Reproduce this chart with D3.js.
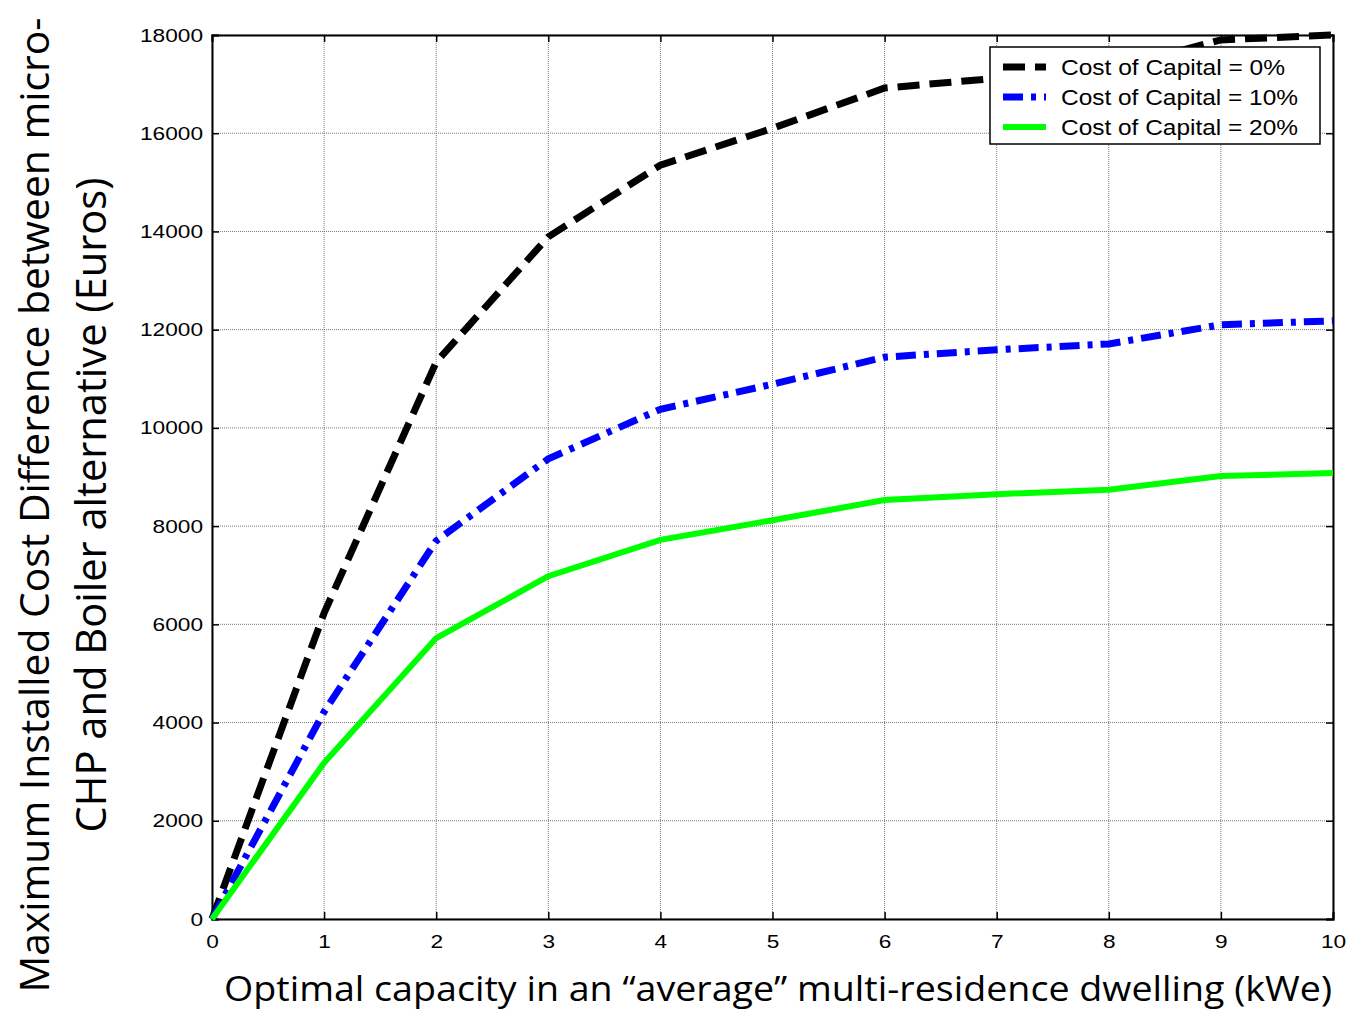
<!DOCTYPE html>
<html>
<head>
<meta charset="utf-8">
<script src="https://cdn.jsdelivr.net/npm/d3@7"></script>
<style>
  body { margin: 0; background: #fff; }
  svg { display: block; }
</style>
</head>
<body>
<div id="chart"></div>
<script>
// capacity (kWe) and max installed cost difference (Euros) per cost of capital
const capacity = [0, 1, 2, 3, 4, 5, 6, 7, 8, 9, 10];
const coc0 = [0, 6230, 11340, 13890, 15350, 16100, 16920, 17120, 17300, 17900, 18000];
const coc10 = [0, 4220, 7700, 9370, 10380, 10890, 11440, 11590, 11710, 12100, 12180];
const coc20 = [0, 3180, 5720, 6980, 7720, 8120, 8530, 8650, 8740, 9020, 9080];
const seriesNames = ['Cost of Capital = 0%', 'Cost of Capital = 10%', 'Cost of Capital = 20%'];
const yTicks = [0, 2000, 4000, 6000, 8000, 10000, 12000, 14000, 16000, 18000];

const W = 1348, H = 1011;
const plotL = 212, plotR = 1333, plotT = 35, plotB = 919;

const svg = d3.select('#chart').append('svg')
  .attr('width', W).attr('height', H);

const x = d3.scaleLinear().domain([0, 10]).range([plotL, plotR]);
const y = d3.scaleLinear().domain([0, 18000]).range([plotB, plotT]);

// grid
const grid = svg.append('g');
grid.selectAll('.gx').data(capacity).enter().append('line')
  .attr('x1', d => x(d)).attr('x2', d => x(d))
  .attr('y1', plotT).attr('y2', plotB)
  .attr('stroke', '#777').attr('stroke-width', 1).attr('stroke-dasharray', '1,1');
grid.selectAll('.gy').data(yTicks).enter().append('line')
  .attr('x1', plotL).attr('x2', plotR)
  .attr('y1', d => y(d)).attr('y2', d => y(d))
  .attr('stroke', '#777').attr('stroke-width', 1).attr('stroke-dasharray', '1,1');

// axes
const axFont = 'Liberation Sans, Arial, sans-serif';
svg.append('g').attr('transform', `translate(0,${plotB})`)
  .call(d3.axisBottom(x).tickValues(capacity).tickSize(-7).tickPadding(16).tickFormat(d3.format('d')));
svg.append('g').attr('transform', `translate(${plotL},0)`)
  .call(d3.axisLeft(y).tickValues(yTicks).tickSize(-7).tickPadding(9).tickFormat(d3.format('d')));
svg.append('g').attr('transform', `translate(0,${plotT})`)
  .call(d3.axisTop(x).tickValues(capacity).tickSize(-7).tickFormat(''));
svg.append('g').attr('transform', `translate(${plotR},0)`)
  .call(d3.axisRight(y).tickValues(yTicks).tickSize(-7).tickFormat(''));
svg.selectAll('.domain').attr('stroke', '#000').attr('stroke-width', 2);
svg.selectAll('.tick line').attr('stroke', '#000').attr('stroke-width', 1.5);
// labels in the original are a bit wider than Arial, stretch them
svg.selectAll('.tick text')
  .attr('font-family', axFont).attr('font-size', 19).attr('fill', '#000')
  .attr('textLength', function () { return this.textContent.length * 12.6; })
  .attr('lengthAdjust', 'spacingAndGlyphs');

// series
const series = [
  { vals: coc0, color: '#000000', dash: '22,10', width: 7, len: 224 },
  { vals: coc10, color: '#0000ff', dash: '20,8,5,8', width: 7, len: 237 },
  { vals: coc20, color: '#00ff00', dash: null, width: 6, len: 237 }
];
const line = d3.line().x((d, i) => x(capacity[i])).y(d => y(d));
series.forEach(s => {
  svg.append('path').datum(s.vals)
    .attr('d', line)
    .attr('fill', 'none')
    .attr('stroke', s.color)
    .attr('stroke-width', s.width)
    .attr('stroke-dasharray', s.dash);
});

// legend
const lg = svg.append('g').attr('transform', 'translate(990,47)');
lg.append('rect').attr('width', 330).attr('height', 97)
  .attr('fill', '#fff').attr('stroke', '#000').attr('stroke-width', 1.5);
series.forEach((s, i) => {
  const ly = 20 + i * 30;
  lg.append('line').attr('x1', 13).attr('x2', 56).attr('y1', ly).attr('y2', ly)
    .attr('stroke', s.color).attr('stroke-width', s.width)
    .attr('stroke-dasharray', s.dash);
  lg.append('text').attr('x', 71).attr('y', ly + 8)
    .attr('font-family', axFont).attr('font-size', 22)
    .attr('textLength', s.len).attr('lengthAdjust', 'spacingAndGlyphs')
    .text(seriesNames[i]);
});

// axis titles
const titleFont = 'Open Sans, Lato, sans-serif';
svg.append('text')
  .attr('x', 778).attr('y', 1001)
  .attr('text-anchor', 'middle')
  .attr('font-family', titleFont).attr('font-size', 35)
  .attr('textLength', 1108).attr('lengthAdjust', 'spacingAndGlyphs')
  .text('Optimal capacity in an \u201caverage\u201d multi-residence dwelling (kWe)');

const yl = svg.append('g').attr('transform', 'translate(0,505) rotate(-90)');
yl.append('text').attr('x', 0).attr('y', 49)
  .attr('text-anchor', 'middle')
  .attr('font-family', titleFont).attr('font-size', 41)
  .attr('textLength', 975).attr('lengthAdjust', 'spacingAndGlyphs')
  .text('Maximum Installed Cost Difference between micro-');
yl.append('text').attr('x', 0).attr('y', 106)
  .attr('text-anchor', 'middle')
  .attr('font-family', titleFont).attr('font-size', 42)
  .attr('textLength', 655).attr('lengthAdjust', 'spacingAndGlyphs')
  .text('CHP and Boiler alternative (Euros)');
</script>
</body>
</html>
